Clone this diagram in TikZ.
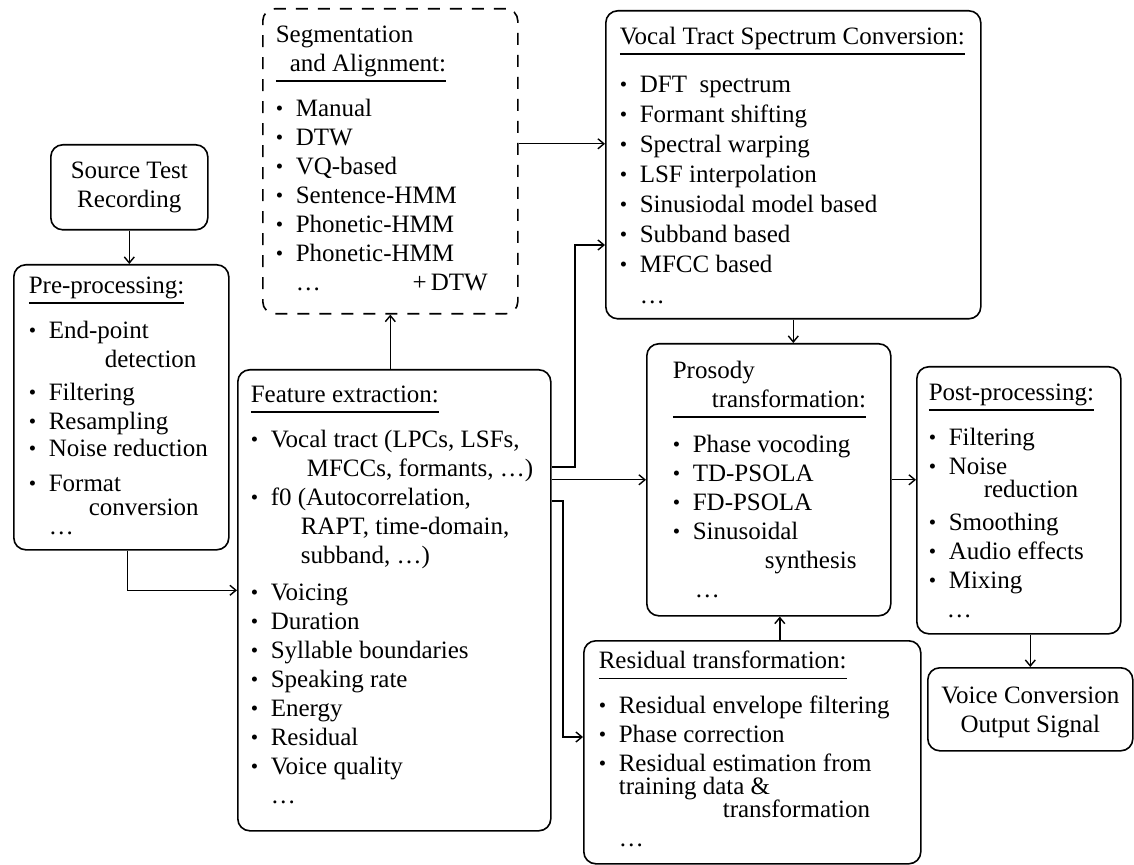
\documentclass[tikz,border=0pt]{standalone}
\usepackage{fontspec}
\setmainfont{Liberation Serif}
\usetikzlibrary{arrows.meta}
\setlength{\arrayrulewidth}{0.8pt}

\newcommand{\panel}[6]{\makebox[#1][l]{\hspace*{#2}\parbox[t][#3][t]{#4}{\vspace*{#5}\raggedright #6}}}
\newcommand{\ttl}[1]{\begin{tabular}[t]{@{}l@{}}#1\\\hline\end{tabular}}
\newcommand{\bu}{\strut\makebox[10pt][l]{\raisebox{0.5pt}{\fontsize{10.5}{10}\selectfont\textbullet}}}

\tikzset{
  box/.style={draw, line width=0.8pt, rounded corners=6pt, inner sep=0pt, anchor=north west},
  arr/.style={-{Straight Barb[length=3pt,width=5pt]}, line width=0.7pt}
}

\begin{document}
\begin{tikzpicture}[x=0.5pt,y=-0.5pt,font=\fontsize{12.5}{14.5}\selectfont]
    \useasboundingbox (0,0) rectangle (1134,865);

    \node[box] (str) at (50,144) {\panel{78.5pt}{0pt}{42.5pt}{78.5pt}{6.85pt}{\centering\strut Source Test\\Recording}};

    \node[box] (pre) at (13,264) {\panel{107.5pt}{7.5pt}{142.5pt}{96pt}{4.35pt}{\ttl{Pre-processing:}\\[6pt]
      \bu End-point\\
      \hspace*{38pt}detection\\[2pt]
      \bu Filtering\\
      \bu Resampling\\[-1pt]
      \bu Noise reduction\\[3pt]
      \bu Format\\[-2.5pt]
      \hspace*{30pt}conversion\\[-5pt]
      \hspace*{10pt}\ldots}};

    \node[box, dash pattern=on 6pt off 5pt] (seg) at (262,8) {\panel{127.5pt}{6.5pt}{152.5pt}{106pt}{6.85pt}{\ttl{Segmentation\\\hspace*{7pt}and Alignment:}\\[6pt]
      \bu Manual\\
      \bu DTW\\
      \bu VQ-based\\
      \bu Sentence-HMM\\
      \bu Phonetic-HMM\\
      \bu Phonetic-HMM\\
      \hspace*{10pt}\ldots\hfill+\,DTW}};

    \node[box] (vt) at (605,10) {\panel{187.5pt}{7pt}{154pt}{178pt}{6.85pt}{\ttl{Vocal Tract Spectrum Conversion:}\\[7.5pt]
      \bu DFT\ \ spectrum\\[0.5pt]
      \bu Formant shifting\\[0.5pt]
      \bu Spectral warping\\[0.5pt]
      \bu LSF interpolation\\[0.5pt]
      \bu Sinusiodal model based\\[0.5pt]
      \bu Subband based\\[0.5pt]
      \bu MFCC based\\[1pt]
      \hspace*{10pt}\ldots}};

    \node[box] (fe) at (237,369) {\panel{156.5pt}{6.5pt}{230.5pt}{148pt}{6.35pt}{\ttl{Feature extraction:}\\[6pt]
      \bu Vocal tract (LPCs, LSFs,\\
      \hspace*{28pt}MFCCs, formants, \ldots)\\
      \bu f0 (Autocorrelation,\\
      \hspace*{25pt}RAPT, time-domain,\\
      \hspace*{25pt}subband, \ldots)\\[4pt]
      \bu Voicing\\
      \bu Duration\\
      \bu Syllable boundaries\\
      \bu Speaking rate\\
      \bu Energy\\
      \bu Residual\\
      \bu Voice quality\\
      \hspace*{10pt}\ldots}};

    \node[box] (pro) at (646,343) {\panel{122pt}{13pt}{136pt}{105pt}{7.35pt}{\ttl{Prosody\\\hspace*{19.5pt}transformation:}\\[6pt]
      \bu Phase vocoding\\
      \bu TD-PSOLA\\
      \bu FD-PSOLA\\
      \bu Sinusoidal\\
      \hspace*{46pt}synthesis\\
      \hspace*{11pt}\ldots}};

    \node[box] (post) at (916,366) {\panel{102pt}{6pt}{133.5pt}{92pt}{6.85pt}{\ttl{Post-processing:}\\[6pt]
      \bu Filtering\\
      \bu Noise\\[-3pt]
      \hspace*{27.5pt}reduction\\[2pt]
      \bu Smoothing\\
      \bu Audio effects\\
      \bu Mixing\\
      \hspace*{9pt}\ldots}};

    \node[box] (res) at (583,640) {\panel{168.5pt}{7.5pt}{111.5pt}{158pt}{3.85pt}{\ttl{Residual transformation:}\\[6pt]
      \bu Residual envelope filtering\\
      \bu Phase correction\\
      \bu Residual estimation from\\[-3pt]
      \hspace*{10pt}training data \&\\[-3pt]
      \hspace*{62pt}transformation\\
      \hspace*{10pt}\ldots}};

    \node[box] (vco) at (927,667) {\panel{102.5pt}{0pt}{41.5pt}{102.5pt}{7.85pt}{\centering\strut Voice Conversion\\Output Signal}};


    \draw[arr] (str.south) -- (str.south |- pre.north);

    \coordinate (pa) at ([xshift=3pt]pre.south);
    \coordinate (fa) at ([yshift=5pt]fe.west);
    \draw[arr] (pa) |- (fa);

    \draw[arr] (fe.north -| seg.south) -- (seg.south);

    \coordinate (sa) at ([yshift=8.75pt]seg.east);
    \draw[arr] (sa) -- (sa -| vt.west);

    \coordinate (j1) at (575,467);
    \coordinate (j3) at (575,245);
    \draw[arr] (fe.east |- j1) -- (j1) -- (j3) -- (j3 -| vt.west);
    \draw[arr] (fe.east |- pro.west) -- (pro.west);
    \coordinate (j2) at (563,501);
    \coordinate (j4) at (563,737);
    \draw[arr] (fe.east |- j2) -- (j2) -- (j4) -- (j4 -| res.west);

    \draw[arr] (vt.south) -- (vt.south |- pro.north);
    \coordinate (ra) at ([xshift=5.5pt]pro.south);
    \draw[arr] (ra |- res.north) -- (ra);
    \draw[arr] (pro.east) -- (pro.east -| post.west);
    \draw[arr] (vco.north |- post.south) -- (vco.north);

  \end{tikzpicture}
\end{document}
